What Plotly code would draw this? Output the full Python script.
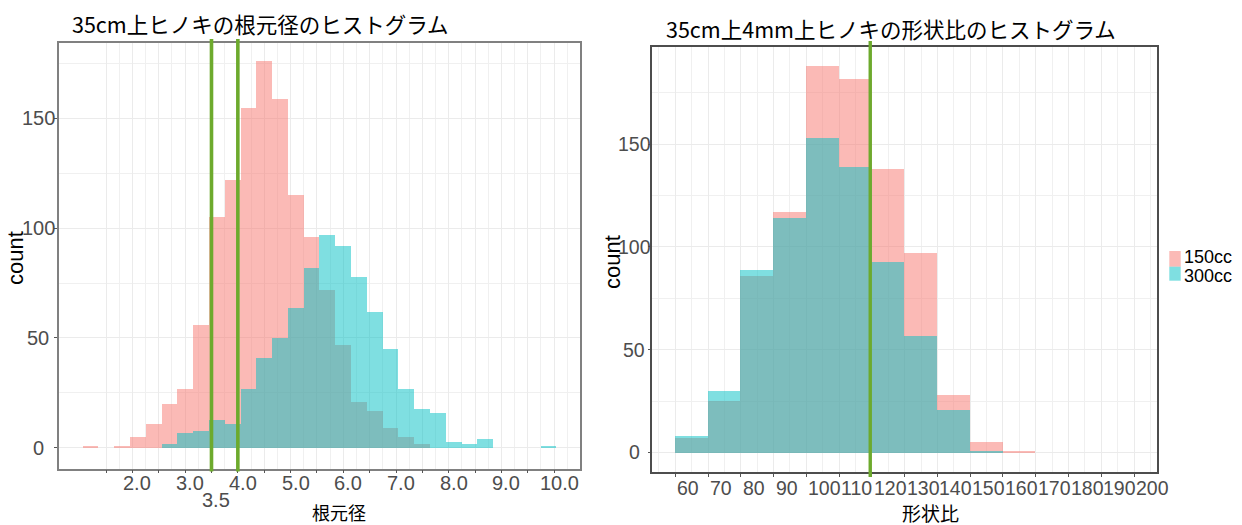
import numpy as np
import plotly.graph_objects as go

W, H = 1242, 525

# ---------------- data: 根元径 (left) ----------------
root_bin_start = 1.047
root_bin_width = 0.2996
root_150cc = [1, 0, 1, 5, 11, 20, 27, 56, 105, 122, 155, 176, 159, 115, 96,
              72, 47, 21, 17, 9, 5, 2, 0, 0, 0, 0, 0, 0, 0, 0]
root_300cc = [0, 0, 0, 0, 0, 2, 7, 8, 13, 11, 27, 41, 50, 64, 82,
              97, 92, 78, 62, 45, 27, 18, 16, 3, 2, 4, 0, 0, 0, 1]
root_vlines = [3.5, 4.0]
root_label_vals = [2, 3, 4, 5, 6, 7, 8, 9, 10]
root_labels = ["2.0", "3.0", "4.0", "5.0", "6.0", "7.0", "8.0", "9.0", "10.0"]
root_extra_val = 3.5
root_extra_label = "3.5"

# ---------------- data: 形状比 (right) ----------------
ratio_bin_edges = [60, 70, 80, 90, 100, 110, 120, 130, 140, 150, 160, 170]
ratio_150cc = [7, 25, 86, 117, 188, 182, 138, 97, 28, 5, 1]
ratio_300cc = [8, 30, 89, 114, 153, 139, 93, 57, 21, 1, 0]
ratio_vlines = [119.5]
ratio_tick_vals = [60, 70, 80, 90, 100, 110, 120, 130, 140, 150, 160, 170, 180, 190, 200]
ratio_labels = ["60", "70", "80", "90", "100", "110", "120", "130", "140",
                "150", "160", "170", "180", "190", "200"]

count_tick_vals = [0, 50, 100, 150]
count_labels = ["0", "50", "100", "150"]
series_names = ["150cc", "300cc"]
series_colors = ["rgba(248,118,109,0.5)", "rgba(0,191,196,0.5)"]

titles = ["35cm上ヒノキの根元径のヒストグラム", "35cm上4mm上ヒノキの形状比のヒストグラム"]
xtitles = ["根元径", "形状比"]
ytitle = "count"

# ---------------- helpers ----------------
def px(x):
    return x / W

def py(y):
    return 1 - y / H

LATIN = "Liberation Sans, Arial, sans-serif"
CJK = "Noto Sans CJK JP, sans-serif"
TICKCOL = "#4D4D4D"

fig = go.Figure()

# left bars
root_centers = [root_bin_start + root_bin_width * (i + 0.5) for i in range(len(root_150cc))]
for name, vals, col in zip(series_names, [root_150cc, root_300cc], series_colors):
    fig.add_trace(go.Bar(x=root_centers, y=vals, width=root_bin_width, name=name,
                         marker=dict(color=col, line=dict(width=0)),
                         showlegend=False, xaxis="x", yaxis="y"))

# right bars
ratio_centers = [(a + b) / 2 for a, b in zip(ratio_bin_edges[:-1], ratio_bin_edges[1:])]
ratio_widths = [b - a for a, b in zip(ratio_bin_edges[:-1], ratio_bin_edges[1:])]
for name, vals, col in zip(series_names, [ratio_150cc, ratio_300cc], series_colors):
    fig.add_trace(go.Bar(x=ratio_centers, y=vals, width=ratio_widths, name=name,
                         marker=dict(color=col, line=dict(width=0)),
                         showlegend=False, xaxis="x2", yaxis="y2"))

# ---------------- axes ----------------
root_tick_vals = list(np.arange(1.5, 10.01, 0.5))
root_minor = list(np.arange(1.75, 10.26, 0.5))

grid_major = "#EBEBEB"
grid_minor = "#F0F0F0"

def axis_common(ticklen=3):
    return dict(showgrid=True, gridcolor=grid_major, gridwidth=1.1, zeroline=False,
                ticks="outside", ticklen=ticklen, tickcolor="#555555", tickwidth=1,
                showticklabels=False, showline=True, mirror=True, automargin=False)

fig.update_layout(
    xaxis=dict(domain=[px(58.6), px(580)], range=[0.6, 10.49], tickmode="array",
               tickvals=root_tick_vals,
               minor=dict(tickvals=root_minor, showgrid=True, gridcolor=grid_minor,
                          gridwidth=0.8, ticks=""),
               linecolor="#808080", linewidth=1.5, anchor="y", **axis_common()),
    yaxis=dict(domain=[py(468.7), py(42.7)], range=[-9.5, 184.4], tickmode="array",
               tickvals=count_tick_vals,
               minor=dict(tickvals=[25, 75, 125, 175], showgrid=True, gridcolor=grid_minor,
                          gridwidth=0.8, ticks=""),
               linecolor="#808080", linewidth=1.5, anchor="x", **axis_common()),
    xaxis2=dict(domain=[px(652.3), px(1157)], range=[53, 207], tickmode="array",
                tickvals=ratio_tick_vals,
                minor=dict(tickvals=list(range(55, 206, 10)), showgrid=True,
                           gridcolor=grid_minor, gridwidth=0.8, ticks=""),
                linecolor="#4D4D4D", linewidth=2, anchor="y2", **axis_common()),
    yaxis2=dict(domain=[py(471.7), py(46.7)], range=[-9.4, 197.4], tickmode="array",
                tickvals=count_tick_vals,
                minor=dict(tickvals=[25, 75, 125, 175], showgrid=True, gridcolor=grid_minor,
                           gridwidth=0.8, ticks=""),
                linecolor="#4D4D4D", linewidth=2, anchor="x2", **axis_common(ticklen=2)),
)

# ---------------- green reference lines ----------------
shapes = []
for v in root_vlines:
    shapes.append(dict(type="line", xref="x", yref="paper", x0=v, x1=v,
                       y0=py(471.6), y1=py(39), line=dict(color="#6DAA2D", width=3.6),
                       layer="above"))
for v in ratio_vlines:
    shapes.append(dict(type="line", xref="x2", yref="paper", x0=v, x1=v,
                       y0=py(477), y1=py(41), line=dict(color="#6DAA2D", width=3.4),
                       layer="above"))

# manual legend keys
legend_rows = [(251, 266.7), (266.7, 280.7)]
legend_text_y = [257, 276]
for (y0, y1), col in zip(legend_rows, series_colors):
    shapes.append(dict(type="rect", xref="paper", yref="paper", x0=px(1169.3), x1=px(1180.7),
                       y0=py(y1), y1=py(y0), fillcolor=col, line=dict(width=0)))

tickfont = dict(family=LATIN, size=20, color=TICKCOL)
annotations = []

# tick labels (placed at the axis values)
for v, lab in zip(root_label_vals, root_labels):
    annotations.append(dict(text=lab, x=v, y=py(483), xref="x", yref="paper",
                            xanchor="center", yanchor="middle", xshift=5,
                            showarrow=False, font=tickfont))
annotations.append(dict(text=root_extra_label, x=root_extra_val, y=py(499.5), xref="x",
                        yref="paper", xanchor="center", yanchor="middle", xshift=5,
                        showarrow=False, font=tickfont))
for v, lab in zip(ratio_tick_vals, ratio_labels):
    annotations.append(dict(text=lab, x=v, y=py(488), xref="x2", yref="paper",
                            xanchor="left", yanchor="middle", xshift=0,
                            showarrow=False, font=dict(family=LATIN, size=19.5, color=TICKCOL)))
for v, lab in zip(count_tick_vals, count_labels):
    annotations.append(dict(text=lab, x=px(38), y=v, xref="paper", yref="y",
                            xanchor="center", yanchor="middle", showarrow=False, font=tickfont))
    annotations.append(dict(text=lab, x=px(634), y=v, xref="paper", yref="y2",
                            xanchor="center", yanchor="middle", showarrow=False,
                            font=dict(family=LATIN, size=19.5, color=TICKCOL)))

annotations += [
    dict(text=titles[0], x=px(70), y=py(23), xref="paper", yref="paper",
         xanchor="left", yanchor="middle", showarrow=False,
         font=dict(family=CJK, size=21.5, color="black")),
    dict(text=titles[1], x=px(664), y=py(28), xref="paper", yref="paper",
         xanchor="left", yanchor="middle", showarrow=False,
         font=dict(family=CJK, size=21.5, color="black")),
    dict(text=xtitles[0], x=px(339), y=py(512), xref="paper", yref="paper",
         xanchor="center", yanchor="middle", showarrow=False,
         font=dict(family=CJK, size=18, color="black")),
    dict(text=xtitles[1], x=px(930), y=py(512), xref="paper", yref="paper",
         xanchor="center", yanchor="middle", showarrow=False,
         font=dict(family=CJK, size=19, color="black")),
    dict(text=ytitle, x=px(15), y=py(258), xref="paper", yref="paper", textangle=-90,
         xanchor="center", yanchor="middle", showarrow=False,
         font=dict(family=LATIN, size=22, color="black")),
    dict(text=ytitle, x=px(612), y=py(262), xref="paper", yref="paper", textangle=-90,
         xanchor="center", yanchor="middle", showarrow=False,
         font=dict(family=LATIN, size=22, color="black")),
]
for name, ty in zip(series_names, legend_text_y):
    annotations.append(dict(text=name, x=px(1181.5), y=py(ty), xref="paper",
                            yref="paper", xanchor="left", yanchor="middle", showarrow=False,
                            font=dict(family=LATIN, size=18, color="black")))

fig.update_layout(
    width=W, height=H, margin=dict(l=0, r=0, t=0, b=0, autoexpand=False),
    paper_bgcolor="white", plot_bgcolor="white",
    barmode="overlay", bargap=0, showlegend=False,
    shapes=shapes, annotations=annotations,
)

fig.write_html("out.html")
